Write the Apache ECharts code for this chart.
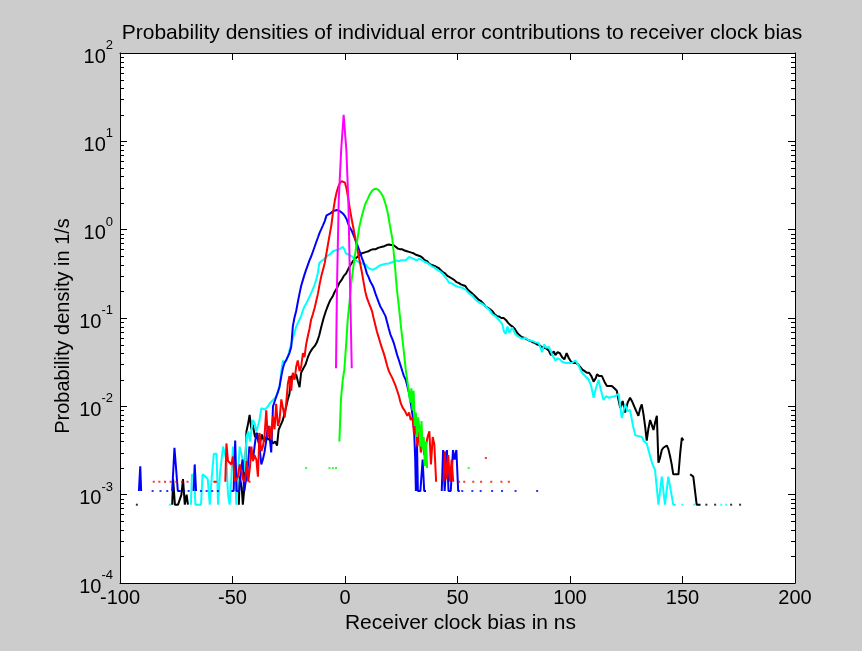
<!DOCTYPE html>
<html>
<head>
<meta charset="utf-8">
<title>Receiver clock bias densities</title>
<script src="https://cdn.jsdelivr.net/npm/echarts@6/dist/echarts.min.js"></script>
<style>
html,body{margin:0;padding:0;background:#fff;}
#main{position:absolute;left:0;top:0;width:862px;height:651px;}
</style>
</head>
<body>
<div id="main"></div>
<script type="text/javascript">
// curves, [x in ns, density]; null = gap in the line
var blackLine = [
  [-76.8,0.00077],[-76.4,0.0015],[-75.6,0.00077],[-74.2,0.00077],[-72.7,0.001],[-72,0.0015],[-71.2,0.00077],[-70.4,0.001],[-69.8,0.00077], null,
  [-47.2,0.00077],[-46.8,0.0016],[-45.9,0.0012],[-45.4,0.00077],[-44.6,0.0013],[-43.8,0.0052],[-43,0.0065],[-42.4,0.008],[-41.6,0.0055],[-41,0.0062],
  [-40,0.0045],[-39,0.005],[-38,0.0036],[-37,0.0048],[-36,0.004],[-35,0.0045],[-34,0.0042],[-33,0.0043],[-32,0.0038],[-31,0.004],
  [-30.2,0.0036],[-29.5,0.0054],[-28.5,0.0062],[-27.6,0.007],[-26.8,0.0085],[-26.1,0.01],[-25.4,0.012],[-24.7,0.0138],[-23.9,0.022],[-22.8,0.021],
  [-21.7,0.023],[-20.9,0.019],[-20.2,0.0165],[-19.5,0.024],[-18.5,0.027],[-17.5,0.03],[-16.5,0.036],[-15.5,0.041],[-14.5,0.045],[-13.5,0.048],
  [-12.5,0.053],[-11.5,0.063],[-10.5,0.08],[-9.5,0.1],[-8.5,0.12],[-7.5,0.14],[-6.5,0.16],[-5.5,0.175],[-4.5,0.2],[-3.5,0.22],
  [-2.5,0.25],[-1.5,0.27],[-0.5,0.3],[0.5,0.32],[1.5,0.36],[2.5,0.4],[3.5,0.44],[4.5,0.47],[5.5,0.49],[6.5,0.52],
  [7.5,0.54],[8.5,0.55],[9.5,0.56],[10.5,0.57],[11.5,0.59],[12.5,0.6],[13.5,0.6],[14.5,0.62],[15.5,0.63],[16.5,0.64],
  [17.5,0.65],[18.5,0.67],[19.5,0.68],[20.5,0.67],[21.5,0.67],[22.5,0.64],[23.5,0.61],[24.5,0.6],[25.5,0.6],[26.5,0.58],
  [27.5,0.57],[28.5,0.56],[29.5,0.55],[30.5,0.54],[31.5,0.52],[32.5,0.51],[33.5,0.5],[34.5,0.48],[35.5,0.45],[36.5,0.44],
  [37.5,0.41],[38.5,0.4],[39.5,0.39],[40.5,0.38],[41.5,0.37],[42.5,0.35],[43.5,0.33],[44.5,0.32],[45.5,0.3],[46.5,0.29],
  [47.5,0.28],[48.5,0.27],[49.5,0.255],[50.5,0.25],[51.5,0.24],[52.5,0.235],[53.5,0.23],[54.5,0.21],[55.5,0.2],[56.5,0.19],
  [57.5,0.18],[58.5,0.17],[59.5,0.16],[60.5,0.155],[61.5,0.145],[62.5,0.135],[63.5,0.13],[64.5,0.125],[65.5,0.12],[66.5,0.11],
  [67.5,0.105],[68.5,0.104],[69.5,0.1],[70.5,0.1],[71.5,0.095],[72.5,0.088],[73.5,0.083],[74.5,0.08],[75.5,0.075],[76.5,0.068],
  [77.5,0.064],[78.5,0.061],[79.5,0.06],[80.5,0.058],[81.5,0.056],[82.5,0.055],[83.5,0.053],[84.5,0.052],[85.5,0.05],[86.5,0.049],
  [87.5,0.047],[88.5,0.046],[89.5,0.045],[90.5,0.043],[91.5,0.038],[92,0.037],[92.8,0.042],[93.5,0.038],[94.5,0.041],[95.5,0.04],
  [96.5,0.036],[97.5,0.034],[98.5,0.04],[99.5,0.035],[100.5,0.032],[101.5,0.031],[102.5,0.031],[103.5,0.03],[104.5,0.028],[105.5,0.026],
  [106.5,0.025],[107.5,0.024],[108.5,0.024],[109.5,0.022],[110.5,0.019],[111.5,0.021],[112,0.023],[113,0.022],[114.2,0.022],[115.3,0.019],
  [116.4,0.017],[117.5,0.017],[118.6,0.017],[119.7,0.016],[120.8,0.015],[121.5,0.012],[122.3,0.0096],[123.4,0.0115],[124.5,0.0085],[125.6,0.011],
  [126.7,0.0125],[127.5,0.0115],[128.2,0.011],[129.3,0.009],[130.4,0.0078],[131.2,0.0095],[131.9,0.0105],[132.7,0.008],[133.4,0.0059],[134.1,0.0041],
  [134.8,0.0055],[135.6,0.007],[136.3,0.0062],[137.1,0.0054],[137.8,0.0065],[138.6,0.0078],[139.3,0.0023],[140,0.0026],[140.8,0.0032],[141.5,0.0034],
  [142.3,0.0035],[143,0.0036],[143.7,0.0033],[144.5,0.0027],[145.2,0.0022],[145.9,0.0017],[147,0.0017],[148.2,0.0017],[149,0.003],[149.7,0.0044],[150.4,0.0041], null,
  [153.4,0.0017],[154.8,0.0016],[156.3,0.00077],[158,0.00077]
];
var cyanLine = [
  [-68.5,0.00077],[-68,0.0017],[-67,0.0016],[-66.5,0.00077],[-64,0.00077],[-63.3,0.0017],[-62,0.0016],[-61,0.0015],[-60.1,0.00077],[-59.2,0.0016],
  [-58.3,0.0029],[-57.1,0.0029],[-56.4,0.00077],[-55.5,0.0018],[-54.2,0.0035],[-53.4,0.0035],[-52.7,0.0025],[-52,0.001],[-51.3,0.00077],[-50.5,0.0015],
  [-49.8,0.0035],[-49,0.0025],[-48.3,0.00077],[-47.5,0.0018],[-46.8,0.0035],[-45.9,0.0028],[-44.6,0.0018],[-43.8,0.0045],[-43,0.0052],[-42.2,0.004],
  [-41.6,0.004],[-41,0.007],[-40.2,0.0065],[-39.4,0.0052],[-38.7,0.006],[-38,0.007],[-37.2,0.0095],[-36.5,0.01],[-35.5,0.0092],[-34.3,0.01],
  [-33.2,0.011],[-32,0.0118],[-31.3,0.012],[-30.6,0.0128],[-29.8,0.015],[-29.1,0.0167],[-28.3,0.025],[-27.6,0.033],[-26.8,0.031],[-26.1,0.033],
  [-25.2,0.038],[-24.5,0.045],[-23.9,0.051],[-22.8,0.063],[-21.7,0.08],[-20.6,0.092],[-19.5,0.105],[-18.8,0.12],[-18,0.135],[-17,0.15],
  [-16,0.17],[-15.1,0.19],[-14,0.22],[-12.8,0.27],[-12,0.33],[-11.4,0.42],[-10.5,0.44],[-9.5,0.46],[-8.4,0.49],[-7.5,0.51],
  [-6.5,0.53],[-5.4,0.57],[-4.5,0.58],[-3.5,0.59],[-2.5,0.6],[-1.8,0.6],[-1,0.64],[-0.3,0.6],[0.4,0.54],[1.2,0.53],
  [1.9,0.52],[3,0.5],[4,0.47],[4.9,0.45],[6,0.43],[7,0.42],[8.2,0.41],[9.3,0.4],[10.3,0.37],[11,0.36],
  [12.3,0.35],[13,0.36],[14,0.37],[15.2,0.39],[16.5,0.4],[17.8,0.41],[19,0.41],[20,0.42],[21.1,0.43],[22.6,0.45],
  [24,0.44],[25,0.45],[27,0.45],[28.5,0.49],[29.5,0.48],[30,0.49],[31,0.46],[32,0.45],[33,0.47],[34.4,0.45],
  [35.5,0.43],[36.6,0.42],[37.7,0.4],[38.8,0.38],[40,0.37],[41,0.35],[42,0.34],[43.3,0.32],[44.5,0.29],[45.5,0.27],
  [46.2,0.25],[47.7,0.245],[49.2,0.23],[50.5,0.225],[52,0.22],[53.6,0.21],[55,0.19],[56.5,0.18],[58.1,0.16],[59.5,0.15],
  [61,0.145],[62.5,0.135],[64,0.125],[65.5,0.11],[66.9,0.105],[68.4,0.095],[69.9,0.085],[70.7,0.07],[71.4,0.066],[72.2,0.08],
  [73,0.068],[74.3,0.078],[75.8,0.065],[77.3,0.061],[78.8,0.058],[80.2,0.06],[81.7,0.056],[83.2,0.055],[84.7,0.053],[86.1,0.052],
  [87,0.045],[87.6,0.041],[88.5,0.05],[89.3,0.046],[90.6,0.047],[91.5,0.042],[92.2,0.038],[93.5,0.033],[94.5,0.035],[95.5,0.034],
  [96.5,0.032],[97.9,0.031],[99,0.031],[100.9,0.031],[102.4,0.033],[103.8,0.029],[105.3,0.024],[106.8,0.022],[108.3,0.02],[109.4,0.017],
  [110.5,0.0125],[111.5,0.016],[112.7,0.02],[113.8,0.015],[114.9,0.0118],[116,0.013],[117.4,0.0125],[118.6,0.0128],[120,0.013],[121.6,0.0139],
  [123,0.0074],[124.5,0.0105],[125.6,0.0088],[126.7,0.0091],[128,0.006],[129,0.0047],[130.5,0.0046],[131.9,0.0045],[133,0.004],[134.1,0.0038],
  [135.5,0.0028],[136.7,0.0022],[137.8,0.0019],[139.3,0.00077],[140.8,0.0016],[142.2,0.00077],[143.7,0.0016],[145.9,0.00077],[147,0.00077]
];
var blueLine = [
  [-91.6,0.0011],[-91,0.0021],[-90.6,0.0011], null,
  [-76.8,0.0011],[-75.8,0.0034],[-75,0.0034],[-74.3,0.0011],[-73,0.0011], null,
  [-67.3,0.0011],[-66.8,0.0022],[-66.2,0.0011], null,
  [-50.5,0.0011],[-49.5,0.0011],[-48.8,0.0041],[-48.2,0.0011],[-47,0.0011],[-46.3,0.0019],[-45.5,0.0025],[-44.8,0.0011],[-44,0.0011],[-43.3,0.0019],
  [-42.5,0.0035],[-41.7,0.003],[-40.9,0.0025],[-40.2,0.0035],[-39.4,0.005],[-38.7,0.0042],[-38,0.0035],[-37.2,0.0022],[-36.5,0.0025],[-35.8,0.003],
  [-35,0.0041],[-34.3,0.006],[-33.5,0.0045],[-32.8,0.003],[-32,0.01],[-31.2,0.0115],[-30.5,0.013],[-29.8,0.0145],[-29.1,0.0167],[-28.3,0.022],
  [-27.6,0.027],[-26.9,0.031],[-26,0.034],[-25.3,0.037],[-24.7,0.04],[-23.9,0.047],[-23.2,0.08],[-22.5,0.1],[-21.7,0.12],[-21,0.15],
  [-20.2,0.19],[-19.5,0.23],[-18.7,0.27],[-18,0.31],[-17.3,0.35],[-16.5,0.4],[-15.8,0.45],[-15,0.5],[-14.2,0.57],[-13.5,0.64],
  [-12.8,0.72],[-12,0.82],[-11.3,0.92],[-10.5,1.02],[-9.8,1.12],[-9,1.25],[-8.2,1.45],[-7.5,1.5],[-6.7,1.52],[-6,1.58],
  [-5.2,1.62],[-4.5,1.66],[-3.7,1.67],[-3,1.65],[-2.2,1.62],[-1.5,1.57],[-0.7,1.5],[0,1.42],[0.8,1.3],[1.5,1.15],
  [2.2,1.05],[3,0.97],[3.7,0.88],[4.5,0.78],[5.2,0.7],[6,0.62],[6.7,0.55],[7.5,0.48],[8.2,0.43],[9,0.37],
  [9.7,0.32],[10.5,0.29],[11.2,0.26],[12,0.24],[12.7,0.22],[13.5,0.19],[14.2,0.17],[15,0.15],[15.7,0.135],[16.5,0.125],
  [17.2,0.115],[18,0.105],[18.7,0.09],[19.5,0.075],[20.2,0.065],[21,0.058],[21.7,0.052],[22.5,0.044],[23.2,0.038],[24,0.033],
  [24.7,0.029],[25.5,0.025],[26.2,0.022],[27,0.02],[27.7,0.017],[28.5,0.014],[29.2,0.011],[30,0.008],[30.7,0.0055],[31.2,0.0025],
  [31.5,0.0011],[32,0.0038],[32.4,0.0011],[33.5,0.0011],[34.5,0.0025],[35.2,0.0011],[36,0.0011], null,
  [43,0.0011],[43.6,0.0032],[44.3,0.0011],[45.3,0.0032],[46,0.0011],[47,0.0011],[48,0.0032],[48.7,0.0025],[49.5,0.0032],[50.3,0.0011],[51,0.0011]
];
var redLine = [
  [-58.5,0.0014],[-57,0.0014], null,
  [-53.2,0.0014],[-52.7,0.0038],[-52,0.0024],[-51.3,0.0025],[-50.5,0.0022],[-49.8,0.0027],[-49,0.0014],[-48.3,0.0014],[-47.6,0.0016],[-46.8,0.0022],
  [-46,0.0018],[-45.4,0.0015],[-44.5,0.0014],[-43.7,0.0024],[-43,0.0014],[-42.2,0.0021],[-41.6,0.0035],[-40.9,0.0024],[-40.2,0.0028],[-39.4,0.0025],
  [-38.7,0.0016],[-38,0.005],[-37.2,0.0031],[-36.5,0.0035],[-35.8,0.0045],[-35,0.009],[-34.3,0.0045],[-33.5,0.006],[-32.8,0.0042],[-32,0.0077],
  [-31.3,0.0055],[-30.6,0.0107],[-29.8,0.006],[-29.1,0.007],[-28.3,0.012],[-27.6,0.0118],[-26.8,0.0075],[-26.1,0.011],[-25.4,0.018],[-24.7,0.022],
  [-23.9,0.015],[-23.2,0.024],[-22.4,0.02],[-21.7,0.028],[-21,0.033],[-20.2,0.025],[-19.5,0.028],[-18.7,0.04],[-18,0.036],[-17.3,0.05],
  [-16.6,0.061],[-15.8,0.075],[-15.1,0.095],[-14.3,0.11],[-13.5,0.13],[-12.8,0.155],[-12,0.19],[-11.3,0.24],[-10.5,0.3],[-9.8,0.35],
  [-9,0.42],[-8.2,0.55],[-7.5,0.7],[-6.8,0.88],[-6,1.15],[-5.3,1.6],[-4.5,2.15],[-3.8,2.6],[-3,3.05],[-2.3,3.35],
  [-1.5,3.55],[-0.8,3.65],[0,3.4],[0.7,2.9],[1.5,2.2],[2.2,1.7],[3,1.3],[3.7,1.05],[4.5,0.82],[5.2,0.65],
  [6,0.52],[6.7,0.42],[7.5,0.33],[8.2,0.26],[9,0.2],[9.7,0.17],[10.5,0.15],[11.2,0.135],[12,0.12],[12.7,0.1],
  [13.5,0.083],[14.2,0.07],[15,0.06],[15.7,0.052],[16.5,0.045],[17.2,0.04],[18,0.034],[18.7,0.029],[19.5,0.025],[20.2,0.023],
  [21,0.021],[21.7,0.019],[22.5,0.017],[23.2,0.015],[24,0.013],[24.7,0.011],[25.5,0.0098],[26.2,0.0092],[27,0.0085],[27.7,0.0078],
  [28.5,0.0085],[29.2,0.007],[30,0.0075],[30.7,0.0048],[31.5,0.006],[32.2,0.0035],[33,0.0052],[33.7,0.003],[34.5,0.0044],[35.2,0.0028],
  [36,0.0027],[36.7,0.0045],[37.5,0.0052],[38.2,0.0022],[39,0.0045],[39.7,0.0037],[40.5,0.0014], null,
  [43.8,0.0014],[44.4,0.0031],[45.1,0.0015],[45.9,0.0028],[46.6,0.0014],[47.4,0.0025],[48.1,0.0014]
];
var greenLine = [
  [-2.5,0.004],[-1.8,0.012],[-1,0.02],[-0.3,0.026],[0.5,0.05],[1.2,0.095],[2,0.15],[2.7,0.24],[3.4,0.33],[4.1,0.45],
  [5,0.65],[5.6,0.8],[6.3,1.05],[7.1,1.3],[8,1.6],[9,1.95],[10,2.2],[11,2.5],[12,2.75],[13,2.88],
  [14,2.9],[15,2.8],[16,2.6],[17,2.35],[18,1.95],[19,1.55],[20,1.1],[21,0.8],[22,0.45],[23,0.22],
  [24,0.13],[25,0.075],[26,0.045],[27,0.026],[28,0.017],[29,0.011],[29.5,0.016],[30,0.009],[30.5,0.015],[31,0.006],
  [31.5,0.0085],[32,0.0045],[32.5,0.0075],[33,0.006],[33.5,0.0035],[34,0.0068],[34.5,0.0032],[35,0.0045],[35.5,0.0021],[36,0.004],[36.5,0.002]
];
var magentaLine = [
  [-4,0.027],[-3.6,0.2],[-2.8,2.1],[-1.7,8],[-0.6,20],[0.6,8],[1.5,2.1],[2.3,0.2],[3,0.027]
];
// single-count bins that show up as isolated dots
var blackDots = [[-92.5,0.00077],[160.6,0.00077],[164.5,0.00077],[171.6,0.00077],[175.6,0.00077]];
var cyanDots = [[-77.8,0.00077],[149.9,0.00077],[155.2,0.00077],[167.2,0.00077],[169.4,0.00077]];
var blueDots = [[-85.5,0.0011],[-82,0.0011],[-79,0.0011],[-71.5,0.0011],[-69.5,0.0011],[-64,0.0011],[-61.5,0.0011],[-59,0.0011],[-56.5,0.0011],
  [52.1,0.0011],[56.6,0.0011],[60.3,0.0011],[65.4,0.0011],[69.8,0.0011],[75.8,0.0011],[85.4,0.0011]];
var redDots = [[-85,0.0014],[-82.5,0.0014],[-80,0.0014],[-77.5,0.0014],[-75,0.0014],[-72.5,0.0014],[-70,0.0014],[-42.4,0.0014],
  [50.7,0.0014],[53,0.0014],[57,0.0014],[60.5,0.0014],[62.6,0.0026],[65,0.0014],[69.5,0.0014],[72.8,0.0014]];
var greenDots = [[-17.3,0.002],[-6.9,0.002],[-5.4,0.002],[-4,0.002],[55,0.002]];

var xMin = -100, xMax = 200, xStep = 50;
var yMin = 1e-4, yMax = 100;

var FONT = 'Liberation Sans, Arial, Helvetica, sans-serif';

function lineSeries(data, color) {
    return {
        type: 'line',
        data: data.map(function (p) { return p ? p : ['-', '-']; }),
        symbol: 'none',
        showSymbol: false,
        connectNulls: false,
        silent: true,
        animation: false,
        lineStyle: { color: color, width: 2 },
        z: 3
    };
}
function dotSeries(data, color) {
    return {
        type: 'scatter',
        data: data,
        symbol: 'rect',
        symbolSize: 2,
        silent: true,
        animation: false,
        itemStyle: { color: color },
        z: 3
    };
}

// minor ticks of the log axis (2..9 in each decade)
var minorTicks = [];
for (var e = -4; e < 2; e++) {
    for (var k = 2; k <= 9; k++) {
        minorTicks.push([xMin, k * Math.pow(10, e)]);
    }
}

var myChart = echarts.init(document.getElementById('main'), null, { renderer: 'canvas' });

var option = {
    backgroundColor: '#cccccc',
    animation: false,
    title: {
        text: 'Probability densities of individual error contributions to receiver clock bias',
        left: 457,
        top: 18,
        textAlign: 'center',
        textStyle: { color: '#000', fontSize: 21, fontWeight: 'normal', fontFamily: FONT }
    },
    graphic: [{
        type: 'text',
        x: 63, y: 326,
        rotation: Math.PI / 2,
        style: {
            text: 'Probability density in 1/s',
            fill: '#000', fontSize: 20, fontFamily: FONT,
            align: 'center', verticalAlign: 'middle'
        },
        silent: true
    }],
    grid: {
        left: 120, right: 67, top: 53, bottom: 68,
        show: true, backgroundColor: '#fff', borderWidth: 0,
        containLabel: false,
        outerBoundsMode: 'none'
    },
    xAxis: [{
        type: 'value', min: xMin, max: xMax, interval: xStep, position: 'bottom',
        name: 'Receiver clock bias in ns', nameLocation: 'middle', nameGap: 27,
        nameTextStyle: { color: '#000', fontSize: 21, fontFamily: FONT, padding: [0, 0, 0, 6] },
        axisLine: { show: true, onZero: false, lineStyle: { color: '#000', width: 1 } },
        axisTick: { show: true, inside: true, length: 7, lineStyle: { color: '#000' } },
        axisLabel: { color: '#000', fontSize: 20, fontFamily: FONT, margin: 5, showMinLabel: true, showMaxLabel: true, hideOverlap: false },
        splitLine: { show: false }
    }, {
        type: 'value', min: xMin, max: xMax, interval: xStep, position: 'top',
        axisLine: { show: true, onZero: false, lineStyle: { color: '#000', width: 1 } },
        axisTick: { show: true, inside: true, length: 7, lineStyle: { color: '#000' } },
        axisLabel: { show: false },
        splitLine: { show: false }
    }],
    yAxis: [{
        type: 'log', logBase: 10, min: yMin, max: yMax, position: 'left',
        axisLine: { show: true, onZero: false, lineStyle: { color: '#000', width: 1 } },
        axisTick: { show: true, inside: true, length: 7, lineStyle: { color: '#000' } },
        axisLabel: {
            margin: 7, showMinLabel: true, showMaxLabel: true, hideOverlap: false,
            formatter: function (v) {
                return '{b|10}{s|' + Math.round(Math.log10(v)) + '}';
            },
            rich: {
                b: { fontSize: 20, fontFamily: FONT, color: '#000', lineHeight: 28, verticalAlign: 'bottom' },
                s: { fontSize: 13, fontFamily: FONT, color: '#000', lineHeight: 28, verticalAlign: 'top' }
            }
        },
        splitLine: { show: false }
    }, {
        type: 'log', logBase: 10, min: yMin, max: yMax, position: 'right',
        axisLine: { show: true, onZero: false, lineStyle: { color: '#000', width: 1 } },
        axisTick: { show: true, inside: true, length: 7, lineStyle: { color: '#000' } },
        axisLabel: { show: false },
        splitLine: { show: false }
    }],
    series: [
        lineSeries(blackLine, '#000000'),
        lineSeries(cyanLine, '#00ffff'),
        lineSeries(blueLine, '#0000ff'),
        lineSeries(redLine, '#ff0000'),
        lineSeries(greenLine, '#00ff00'),
        lineSeries(magentaLine, '#ff00ff'),
        dotSeries(blackDots, '#000000'),
        dotSeries(cyanDots, '#00ffff'),
        dotSeries(blueDots, '#0000ff'),
        dotSeries(redDots, '#ff0000'),
        dotSeries(greenDots, '#00ff00'),
        {
            type: 'custom',
            data: minorTicks,
            silent: true,
            clip: false,
            z: 5,
            renderItem: function (params, api) {
                var v = api.value(1);
                var pl = api.coord([xMin, v]);
                var pr = api.coord([xMax, v]);
                var y = Math.round(pl[1]) + 0.5;
                return {
                    type: 'group',
                    children: [
                        { type: 'line', shape: { x1: pl[0], y1: y, x2: pl[0] + 4, y2: y }, style: { stroke: '#000', lineWidth: 1 } },
                        { type: 'line', shape: { x1: pr[0] - 4, y1: y, x2: pr[0], y2: y }, style: { stroke: '#000', lineWidth: 1 } }
                    ]
                };
            }
        }
    ]
};

myChart.setOption(option);
</script>
</body>
</html>
